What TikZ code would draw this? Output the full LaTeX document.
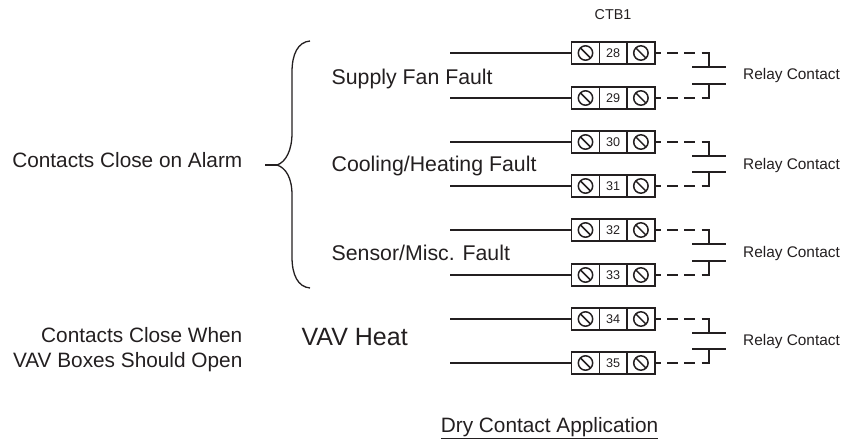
\documentclass[tikz,border=0pt]{standalone}
\usepackage{fontspec}
\setmainfont{Liberation Sans}
\usepackage{tikz}
\usetikzlibrary{positioning}
\definecolor{inkblack}{HTML}{231F20}

\begin{document}
\begin{tikzpicture}[x=1pt, y=-1pt, inkblack, line width=1.3pt,
    screwnode/.style={draw, line width=1.6pt, rectangle, outer sep=0pt, inner sep=0pt, minimum width=27.7pt, minimum height=22.5pt,
        path picture={
            \draw[line width=1.5pt] (path picture bounding box.center) circle (7.2pt);
            \draw[line width=1.5pt] ([shift={(-5.1pt,5.1pt)}]path picture bounding box.center) -- ([shift={(5.1pt,-5.1pt)}]path picture bounding box.center);
        }},
    numnode/.style={draw, line width=1.6pt, rectangle, outer sep=0pt, inner sep=0pt, minimum width=27.7pt, minimum height=22.5pt, font=\fontsize{12.6}{14}\selectfont},
    barnode/.style={rectangle, fill=inkblack, inner sep=0pt, minimum width=34pt, minimum height=1.3pt},
    relaynode/.style={font=\fontsize{15.4}{18}\selectfont, anchor=base west, inner sep=0pt},
    groupnode/.style={font=\fontsize{21.3}{25}\selectfont, anchor=base west, inner sep=0pt},
    sidenode/.style={font=\fontsize{20.8}{25}\selectfont, anchor=east, align=right, inner sep=0pt},
    wire/.style={line width=1.3pt, line cap=rect},
    relaywire/.style={line width=1.3pt, dash pattern=on 11pt off 6.3pt, dash phase=5pt}]
    \useasboundingbox (0,0) rectangle (843,443);

    \node[font=\fontsize{14.3}{17}\selectfont, anchor=base, inner sep=0pt] (ctb) at (613,19.3) {CTB1};

    % terminal blocks
    \node[screwnode] (lft28) at (585.5,53) {};
    \node[numnode]   (num28) [right=0pt of lft28] {28};
    \node[screwnode] (rgt28) [right=0pt of num28] {};
    \node[screwnode] (lft29) at (585.5,98) {};
    \node[numnode]   (num29) [right=0pt of lft29] {29};
    \node[screwnode] (rgt29) [right=0pt of num29] {};
    \node[screwnode] (lft30) at (585.5,142) {};
    \node[numnode]   (num30) [right=0pt of lft30] {30};
    \node[screwnode] (rgt30) [right=0pt of num30] {};
    \node[screwnode] (lft31) at (585.5,186) {};
    \node[numnode]   (num31) [right=0pt of lft31] {31};
    \node[screwnode] (rgt31) [right=0pt of num31] {};
    \node[screwnode] (lft32) at (585.5,230) {};
    \node[numnode]   (num32) [right=0pt of lft32] {32};
    \node[screwnode] (rgt32) [right=0pt of num32] {};
    \node[screwnode] (lft33) at (585.5,275) {};
    \node[numnode]   (num33) [right=0pt of lft33] {33};
    \node[screwnode] (rgt33) [right=0pt of num33] {};
    \node[screwnode] (lft34) at (585.5,319) {};
    \node[numnode]   (num34) [right=0pt of lft34] {34};
    \node[screwnode] (rgt34) [right=0pt of num34] {};
    \node[screwnode] (lft35) at (585.5,363) {};
    \node[numnode]   (num35) [right=0pt of lft35] {35};
    \node[screwnode] (rgt35) [right=0pt of num35] {};

    % free ends of the field wires
    \coordinate (end28) at (451,53);
    \coordinate (end29) at (451,98);
    \coordinate (end30) at (451,142);
    \coordinate (end31) at (451,186);
    \coordinate (end32) at (451,230);
    \coordinate (end33) at (451,275);
    \coordinate (end34) at (451,319);
    \coordinate (end35) at (451,363);

    \path[wire](end28)edge(lft28);
    \path[wire](end29)edge(lft29);
    \path[wire](end30)edge(lft30);
    \path[wire](end31)edge(lft31);
    \path[wire](end32)edge(lft32);
    \path[wire](end33)edge(lft33);
    \path[wire](end34)edge(lft34);
    \path[wire](end35)edge(lft35);

    % relay contacts
    \node[barnode] (bar28) at (709,67) {};
    \node[barnode] (bar29) at (709,84) {};
    \node[barnode] (bar30) at (709,156) {};
    \node[barnode] (bar31) at (709,172) {};
    \node[barnode] (bar32) at (709,244) {};
    \node[barnode] (bar33) at (709,261) {};
    \node[barnode] (bar34) at (709,333) {};
    \node[barnode] (bar35) at (709,349) {};

    \coordinate (kink28) at (709,53);
    \coordinate (kink29) at (709,98);
    \coordinate (kink30) at (709,142);
    \coordinate (kink31) at (709,186);
    \coordinate (kink32) at (709,230);
    \coordinate (kink33) at (709,275);
    \coordinate (kink34) at (709,319);
    \coordinate (kink35) at (709,363);

    \draw[relaywire] (rgt28.east) -- (kink28);
    \draw[relaywire] (rgt29.east) -- (kink29);
    \draw[relaywire] (rgt30.east) -- (kink30);
    \draw[relaywire] (rgt31.east) -- (kink31);
    \draw[relaywire] (rgt32.east) -- (kink32);
    \draw[relaywire] (rgt33.east) -- (kink33);
    \draw[relaywire] (rgt34.east) -- (kink34);
    \draw[relaywire] (rgt35.east) -- (kink35);

    \draw[wire] (kink28) -- (bar28);
    \draw[wire] (kink29) -- (bar29);
    \draw[wire] (kink30) -- (bar30);
    \draw[wire] (kink31) -- (bar31);
    \draw[wire] (kink32) -- (bar32);
    \draw[wire] (kink33) -- (bar33);
    \draw[wire] (kink34) -- (bar34);
    \draw[wire] (kink35) -- (bar35);

    \node[relaynode] (relay1) at (742.5,80) {Relay Contact};
    \node[relaynode] (relay2) at (742.5,169.3) {Relay Contact};
    \node[relaynode] (relay3) at (742.5,257.7) {Relay Contact};
    \node[relaynode] (relay4) at (742.5,346) {Relay Contact};

    % labels
    \node[groupnode] (supply) at (331,84.3) {Supply Fan Fault};
    \node[groupnode] (cooling) at (331,171.7) {Cooling/Heating Fault};
    \node[groupnode] (sensor) at (331,260.7) {Sensor/Misc. Fault};
    \node[font=\fontsize{25}{29}\selectfont, anchor=base west, inner sep=0pt] (vav) at (301,346) {VAV Heat};
    \node[sidenode, anchor=base east] (alarm) at (243,167.3) {Contacts Close on Alarm};
    \node[sidenode] (open) at (243,349.5) {Contacts Close When\\VAV Boxes Should Open};
    \node[font=\fontsize{20.8}{25}\selectfont, anchor=base, inner sep=0pt] (title) at (549.5,432.2) {\underline{Dry Contact Application}};

    % brace
    \coordinate (bracetip) at (277,165);
    \draw (310,41) .. controls (298,42) and (292,54) .. (292,72) -- (292,133) .. controls (292,150) and (286,162) .. (bracetip)
        .. controls (286,168) and (292,178) .. (292,195) -- (292,257) .. controls (292,275) and (298,287) .. (310,288);
    \draw (265,165) -- (bracetip);
\end{tikzpicture}
\end{document}
